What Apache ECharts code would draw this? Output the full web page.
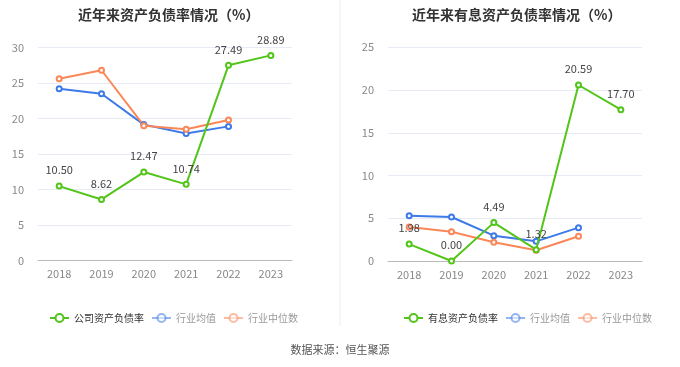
<!DOCTYPE html>
<html><head><meta charset="utf-8">
<script src="https://cdn.jsdelivr.net/npm/echarts@6/dist/echarts.min.js"></script>
<style>html,body{margin:0;padding:0;background:#fff}#c{width:680px;height:367px}</style>
</head><body><div id="c"></div>
<script>
var years = ['2018','2019','2020','2021','2022','2023'];
var leftTitle = '近年来资产负债率情况（%）';
var rightTitle = '近年来有息资产负债率情况（%）';
var companyDebt = [10.50, 8.62, 12.47, 10.74, 27.49, 28.89];
var industryAvgDebt = [24.2, 23.5, 19.15, 17.9, 18.9, null];
var industryMedDebt = [25.6, 26.8, 19.0, 18.5, 19.8, null];
var companyIntDebt = [1.98, 0.00, 4.49, 1.32, 20.59, 17.70];
var industryAvgInt = [5.3, 5.15, 2.96, 2.3, 3.9, null];
var industryMedInt = [3.97, 3.43, 2.19, 1.25, 2.89, null];
var leftNames = ['公司资产负债率','行业均值','行业中位数'];
var rightNames = ['有息资产负债率','行业均值','行业中位数'];
var source = '数据来源：恒生聚源';

var GREEN = '#52c41a', BLUE = '#3d7ae8', ORANGE = '#fa8757';
var font = '"Noto Sans CJK SC", sans-serif';

function line(name, data, color, xi, label) {
  return {
    name: name, type: 'line', data: data, xAxisIndex: xi, yAxisIndex: xi,
    symbol: 'emptyCircle', symbolSize: 5, showSymbol: true,
    lineStyle: {width: 2, color: color}, itemStyle: {color: color},
    label: label ? {show: true, position: 'top', distance: 7, color: '#444', fontSize: 11, fontFamily: font,
      formatter: function(p){ return p.value.toFixed(2); }} : {show: false},
    z: label ? 3 : 2
  };
}
function legendData(names) {
  return [
    {name: names[0], textStyle: {color: '#333'}},
    {name: names[1], textStyle: {color: '#999'}, itemStyle: {opacity: 0.55}, lineStyle: {opacity: 0.55}},
    {name: names[2], textStyle: {color: '#999'}, itemStyle: {opacity: 0.55}, lineStyle: {opacity: 0.55}}
  ];
}
function xAxis(gi) {
  return {type: 'category', data: years, gridIndex: gi, boundaryGap: true,
    axisLine: {lineStyle: {color: '#bbb'}}, axisTick: {show: false},
    axisLabel: {color: '#888', fontSize: 11, fontFamily: font, margin: 8}};
}
function yAxis(gi, max) {
  return {type: 'value', gridIndex: gi, min: 0, max: max, interval: 5,
    axisLine: {show: false}, axisTick: {show: false},
    axisLabel: {color: '#888', fontSize: 11, fontFamily: font, margin: 14},
    splitLine: {lineStyle: {color: '#e6ebf5'}}};
}
function legend(names, left) {
  return {data: legendData(names), left: left, top: 308, orient: 'horizontal',
    itemWidth: 19, itemHeight: 10, itemGap: 7,
    textStyle: {fontSize: 10, fontFamily: font}, selectedMode: false};
}

var chart = echarts.init(document.getElementById('c'), null, {renderer: 'canvas'});
chart.setOption({
  animation: false,
  color: [GREEN, BLUE, ORANGE],
  title: [
    {text: leftTitle, left: 73, top: 3, textStyle: {fontSize: 14, fontWeight: 'bold', color: '#333', fontFamily: font}},
    {text: rightTitle, left: 407, top: 3, textStyle: {fontSize: 14, fontWeight: 'bold', color: '#333', fontFamily: font}}
  ],
  grid: [
    {left: 38, width: 254, top: 47.5, height: 213.2},
    {left: 388, width: 254, top: 47.3, height: 213.7}
  ],
  xAxis: [xAxis(0), xAxis(1)],
  yAxis: [yAxis(0, 30), yAxis(1, 25)],
  legend: [legend(leftNames, 44), legend(rightNames, 398)],
  graphic: [
    {type: 'line', shape: {x1: 340, y1: 0, x2: 340, y2: 326}, style: {stroke: '#eeeeee', lineWidth: 1}},
    {type: 'text', left: 'center', top: 344, style: {text: source, fill: '#555', fontSize: 11, fontFamily: font}}
  ],
  series: [
    line(leftNames[0], companyDebt, GREEN, 0, true),
    line(leftNames[1], industryAvgDebt, BLUE, 0, false),
    line(leftNames[2], industryMedDebt, ORANGE, 0, false),
    line(rightNames[0], companyIntDebt, GREEN, 1, true),
    line(rightNames[1], industryAvgInt, BLUE, 1, false),
    line(rightNames[2], industryMedInt, ORANGE, 1, false)
  ]
});
</script></body></html>
